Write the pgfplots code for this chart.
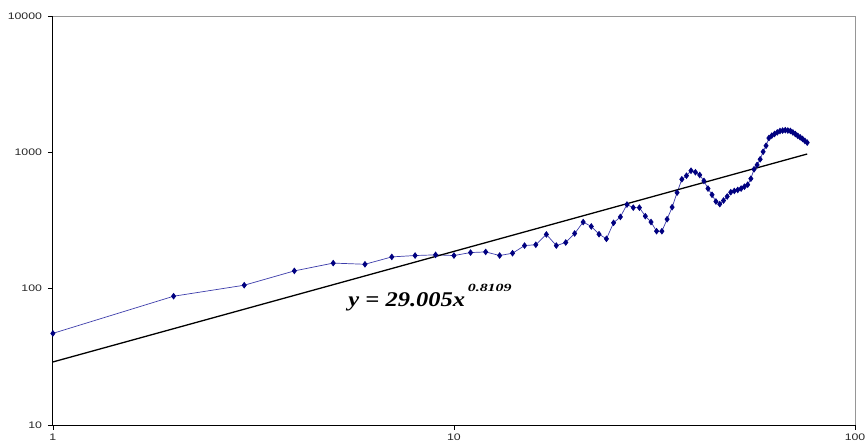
\documentclass[border=0pt]{standalone}
\usepackage{graphicx}
\usepackage{fontspec}
\setmainfont{Liberation Sans}
\newfontfamily\eqfont{Liberation Serif}
\usepackage{pgfplots}
\pgfplotsset{compat=1.18}

\definecolor{seriesline}{RGB}{60,60,170}
\definecolor{seriesmark}{RGB}{0,0,128}
\definecolor{frame}{RGB}{150,150,150}

\begin{document}
\begin{tikzpicture}[x=1pt,y=1pt]
\begin{axis}[
  at={(0,0)}, anchor=south west,
  scale only axis, width=804pt, height=410pt,
  xmode=log, ymode=log,
  xmin=1, xmax=100, ymin=10, ymax=10000,
  xtick={1,10,100}, ytick={10,100,1000,10000},
  xticklabels={1,10,100}, yticklabels={10,100,1000,10000},
  minor tick length=0pt,
  axis lines=left,
  axis line style={-, black, line width=0.8pt},
  tick align=outside,
  major tick length=5pt,
  tick style={black, line width=0.6pt},
  every tick label/.append style={font=\fontsize{9.5}{11}\selectfont, xscale=1.3, text=black!85},
  xticklabel style={yshift=0pt},
  yticklabel style={xshift=-1pt},
  clip=false,
]
% light frame on top and right
\draw[frame, line width=0.8pt] (rel axis cs:0,1) -- (rel axis cs:1,1) -- (rel axis cs:1,0);

% measured series
\addplot[seriesline, line width=0.7pt, mark=diamond*, mark size=2.8pt,
  mark options={fill=seriesmark, draw=seriesmark}] table {
x y
1 47
2 88
3 106
4 135
5 154
6 151
7 171
8 175
9 177
10 175
11 184
12 186
13 175
14 182
15 207
16 210
17 250
18 207
19 218
20 254
21 308
22 286
23 251
24 232
25 304
26 336
27 414
28 393
29 393
30 340
31 308
32 264
33 264
34 323
35 396
36 506
37 634
38 674
39 733
40 714
41 682
42 617
43 542
44 488
45 436
46 417
47 443
48 474
49 510
50 521
51 530
52 542
53 560
54 579
55 641
56 751
57 808
58 889
59 1010
60 1117
61 1273
62 1325
63 1364
64 1400
65 1432
66 1443
67 1454
68 1445
69 1435
70 1400
71 1361
72 1321
73 1288
74 1254
75 1213
76 1178
};

% power-law trend line y = 29.005 x^0.8109
\addplot[black, line width=1.3pt] coordinates {(1,29.005) (76,972)};

\node[anchor=base west, inner sep=0pt] at (axis cs:5.45,73.8)
  {\eqfont\bfseries\itshape\fontsize{21}{24}\selectfont
   \scalebox{1.17}[1]{y = 29.005x}\raisebox{15pt}{\fontsize{11}{13}\selectfont\scalebox{1.45}[1]{\,0.8109}}};
\end{axis}
\pgfresetboundingbox
\path (-53,-19) rectangle (814,426);
\end{tikzpicture}
\end{document}
